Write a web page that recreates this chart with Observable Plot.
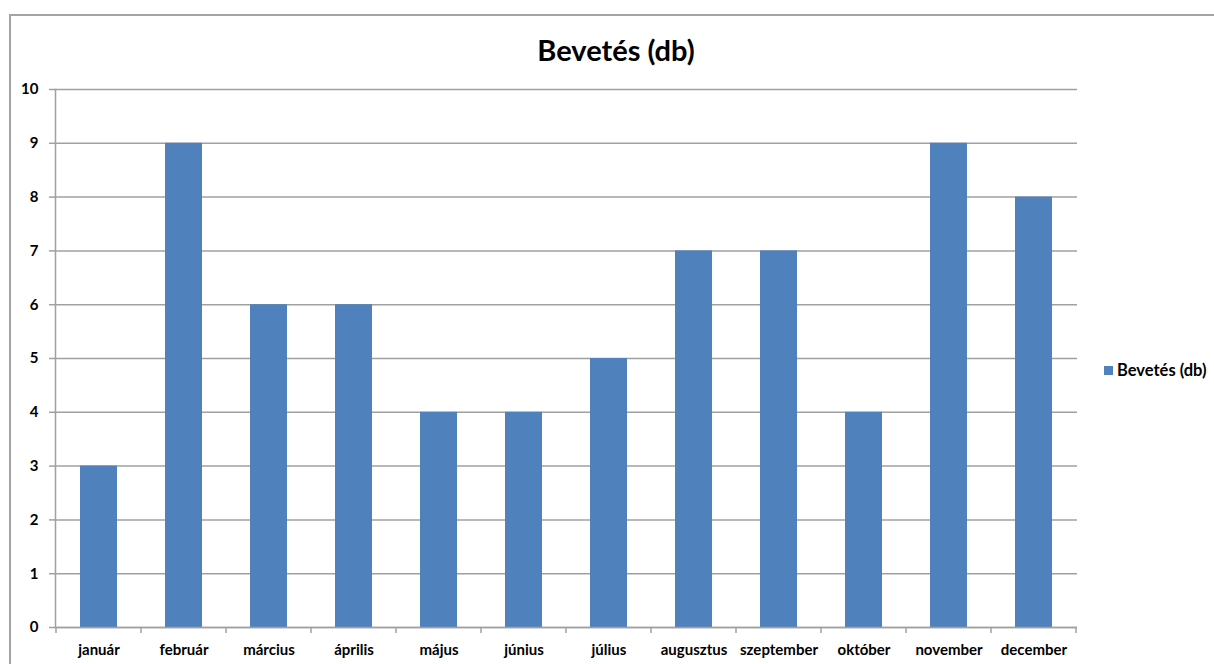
<!DOCTYPE html>
<html><head><meta charset="utf-8">
<script src="https://cdn.jsdelivr.net/npm/d3@7"></script>
<script src="https://cdn.jsdelivr.net/npm/@observablehq/plot@0.6"></script>
<style>
body{margin:0;background:#fff;font-family:Lato,"Open Sans",sans-serif;}
#wrap{position:relative;width:1214px;height:664px;overflow:hidden;background:#fff;}
#border{position:absolute;left:9px;top:14px;width:1300px;height:800px;border:2px solid #a3a3a3;box-sizing:border-box;}
#title{position:absolute;left:0;width:1232px;top:32px;text-align:center;font-weight:bold;font-size:29px;color:#000;}
#legend{position:absolute;left:1104px;top:360px;font-weight:bold;font-size:16.5px;display:flex;align-items:center;color:#000;}
#legend .sw{display:inline-block;width:9px;height:9px;background:#4F81BD;margin-right:4px;}
#chart{position:absolute;left:0;top:0;}
</style></head>
<body>
<div id="wrap">
  <div id="border"></div>
  <div id="chart"></div>
  <div id="title">Bevetés (db)</div>
  <div id="legend"><span class="sw"></span>Bevetés (db)</div>
</div>
<script>
const months = ["január","február","március","április","május","június","július","augusztus","szeptember","október","november","december"];
const values = [3, 9, 6, 6, 4, 4, 5, 7, 7, 4, 9, 8];
const yTicks = [0,1,2,3,4,5,6,7,8,9,10];
const data = months.map((m, i) => ({month: m, value: values[i]}));
const gridColor = "#a0a0a0";

const plot = Plot.plot({
  width: 1214, height: 664,
  marginLeft: 55, marginRight: 137, marginTop: 89, marginBottom: 37,
  x: {domain: months, paddingInner: 0.56, paddingOuter: 0.28},
  y: {domain: [0, 10]},
  style: {fontFamily: "Lato, 'Open Sans', sans-serif", fontSize: "15px", fontWeight: "bold", color: "#000", background: "transparent", overflow: "visible"},
  marks: [
    Plot.gridY(yTicks, {stroke: gridColor, strokeOpacity: 1, strokeWidth: 1.5}),
    Plot.axisY(yTicks, {tickSize: 6, tickPadding: 11, stroke: gridColor, strokeWidth: 1.5, label: null, fontWeight: "bold", tickFormat: d3.format("d")}),
    Plot.barY(data, {x: "month", y: "value", fill: "#4F81BD"}),
    Plot.ruleY([0], {stroke: gridColor, strokeWidth: 1.5}),
    Plot.frame({anchor: "left", stroke: gridColor, strokeWidth: 1.5}),
    Plot.axisX({tickSize: 0, tickPadding: 17, label: null, fontWeight: "bold"})
  ]
});
document.getElementById("chart").appendChild(plot);

// category boundary ticks on the x axis
const sx = plot.scale("x"), sy = plot.scale("y");
const step = sx.step, off = (sx.step - sx.bandwidth) / 2;
const y0 = sy.apply(0);
const bounds = months.map(m => sx.apply(m) - off);
bounds.push(sx.apply(months[months.length - 1]) - off + step);
d3.select(plot).append("g").selectAll("line").data(bounds).join("line")
  .attr("x1", d => d).attr("x2", d => d)
  .attr("y1", y0).attr("y2", y0 + 6)
  .attr("stroke", gridColor).attr("stroke-width", 1.5);
</script>
</body></html>
